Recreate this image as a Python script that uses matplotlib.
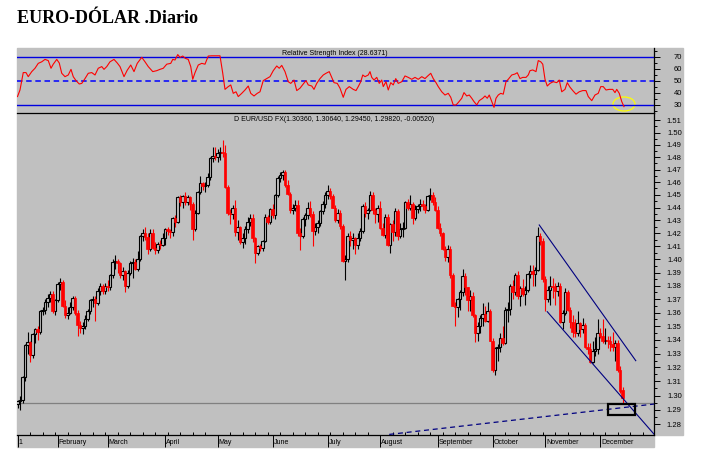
import numpy as np
import pandas as pd
import matplotlib
matplotlib.use("Agg")
import matplotlib.pyplot as plt
from matplotlib.patches import Rectangle, Ellipse
from matplotlib.ticker import NullFormatter
import matplotlib.transforms as mtransforms

# daily EUR/USD candles, 10 Jan 2011 .. 14 Dec 2011 (one line per month)
op = [1.2940, 1.2960, 1.2970, 1.3130, 1.3360, 1.3385, 1.3290, 1.3440, 1.3480, 1.3460, 1.3610, 1.3620, 1.3680, 1.3710, 1.3740, 1.3610,
      1.3690, 1.3810, 1.3830, 1.3650, 1.3580, 1.3600, 1.3640, 1.3710, 1.3600, 1.3510, 1.3490, 1.3500, 1.3550, 1.3610, 1.3690, 1.3700, 1.3670, 1.3760, 1.3800, 1.3760,
      1.3800, 1.3790, 1.3880, 1.3980, 1.3990, 1.3970, 1.3880, 1.3910, 1.3800, 1.3900, 1.3970, 1.3980, 1.3930, 1.4000, 1.4180, 1.4200, 1.4170, 1.4080, 1.4200, 1.4090, 1.4070, 1.4120, 1.4110,
      1.4160, 1.4230, 1.4220, 1.4210, 1.4320, 1.4290, 1.4480, 1.4440, 1.4490, 1.4440, 1.4480, 1.4430, 1.4230, 1.4360, 1.4520, 1.4590, 1.4570, 1.4580, 1.4640, 1.4790, 1.4810,
      1.4800, 1.4830, 1.4840, 1.4830, 1.4560, 1.4360, 1.4350, 1.4400, 1.4210, 1.4250, 1.4130, 1.4160, 1.4230, 1.4290, 1.4320, 1.4160, 1.4050, 1.4100, 1.4090, 1.4140, 1.4330, 1.4290,
      1.4390, 1.4340, 1.4500, 1.4630, 1.4660, 1.4680, 1.4580, 1.4510, 1.4380, 1.4400, 1.4420, 1.4200, 1.4180, 1.4310, 1.4340, 1.4400, 1.4350, 1.4220, 1.4250, 1.4280, 1.4370, 1.4430,
      1.4500, 1.4530, 1.4490, 1.4400, 1.4300, 1.4360, 1.4260, 1.3990, 1.4000, 1.4180, 1.4150, 1.4160, 1.4110, 1.4160, 1.4220, 1.4410, 1.4360, 1.4380, 1.4500, 1.4380, 1.4350,
      1.4400, 1.4240, 1.4190, 1.4330, 1.4110, 1.4270, 1.4210, 1.4370, 1.4180, 1.4230, 1.4240, 1.4440, 1.4400, 1.4430, 1.4320, 1.4390, 1.4410, 1.4430, 1.4410, 1.4380, 1.4490, 1.4500, 1.4440,
      1.4380, 1.4240, 1.4200, 1.4080, 1.4020, 1.4080, 1.3880, 1.3650, 1.3640, 1.3700, 1.3750, 1.3870, 1.3790, 1.3690, 1.3720, 1.3580, 1.3450, 1.3500, 1.3560, 1.3590, 1.3540, 1.3610,
      1.3390, 1.3180, 1.3340, 1.3350, 1.3410, 1.3380, 1.3620, 1.3630, 1.3800, 1.3750, 1.3880, 1.3720, 1.3780, 1.3740, 1.3770, 1.3890, 1.3910, 1.3890, 1.3920, 1.4180, 1.4140,
      1.3850, 1.3700, 1.3770, 1.3800, 1.3790, 1.3760, 1.3800, 1.3530, 1.3600, 1.3750, 1.3620, 1.3530, 1.3460, 1.3450, 1.3520, 1.3480, 1.3510, 1.3350, 1.3330, 1.3240, 1.3320, 1.3330,
      1.3450, 1.3430, 1.3390, 1.3400, 1.3390, 1.3370, 1.3350, 1.3380, 1.3180, 1.3036]
hi = [1.2970, 1.3000, 1.3140, 1.3370, 1.3460, 1.3390, 1.3450, 1.3490, 1.3500, 1.3620, 1.3640, 1.3700, 1.3740, 1.3760, 1.3760, 1.3700,
      1.3830, 1.3860, 1.3840, 1.3690, 1.3640, 1.3680, 1.3720, 1.3720, 1.3620, 1.3540, 1.3530, 1.3580, 1.3630, 1.3700, 1.3720, 1.3720, 1.3780, 1.3820, 1.3810, 1.3820,
      1.3840, 1.3890, 1.4000, 1.4030, 1.4000, 1.3980, 1.3940, 1.3920, 1.3920, 1.3990, 1.4010, 1.4000, 1.4060, 1.4190, 1.4230, 1.4250, 1.4200, 1.4230, 1.4230, 1.4130, 1.4130, 1.4150, 1.4200,
      1.4240, 1.4250, 1.4230, 1.4330, 1.4340, 1.4490, 1.4500, 1.4500, 1.4520, 1.4500, 1.4490, 1.4440, 1.4380, 1.4530, 1.4650, 1.4600, 1.4600, 1.4670, 1.4800, 1.4880, 1.4880,
      1.4870, 1.4880, 1.4940, 1.4900, 1.4580, 1.4390, 1.4420, 1.4460, 1.4300, 1.4260, 1.4200, 1.4260, 1.4330, 1.4350, 1.4350, 1.4170, 1.4110, 1.4120, 1.4150, 1.4350, 1.4340, 1.4400,
      1.4430, 1.4510, 1.4650, 1.4680, 1.4700, 1.4700, 1.4620, 1.4520, 1.4430, 1.4460, 1.4460, 1.4240, 1.4330, 1.4360, 1.4440, 1.4450, 1.4370, 1.4280, 1.4300, 1.4380, 1.4450, 1.4520,
      1.4580, 1.4550, 1.4510, 1.4420, 1.4390, 1.4380, 1.4270, 1.4030, 1.4200, 1.4220, 1.4200, 1.4170, 1.4200, 1.4240, 1.4430, 1.4440, 1.4400, 1.4530, 1.4520, 1.4400, 1.4420,
      1.4450, 1.4280, 1.4350, 1.4350, 1.4280, 1.4300, 1.4400, 1.4390, 1.4280, 1.4290, 1.4450, 1.4470, 1.4500, 1.4440, 1.4420, 1.4430, 1.4470, 1.4460, 1.4430, 1.4500, 1.4550, 1.4520, 1.4480,
      1.4410, 1.4280, 1.4210, 1.4100, 1.4110, 1.4100, 1.3900, 1.3680, 1.3710, 1.3770, 1.3930, 1.3900, 1.3790, 1.3770, 1.3750, 1.3590, 1.3530, 1.3580, 1.3670, 1.3650, 1.3680, 1.3630,
      1.3410, 1.3350, 1.3370, 1.3450, 1.3500, 1.3640, 1.3680, 1.3810, 1.3840, 1.3900, 1.3910, 1.3800, 1.3850, 1.3800, 1.3900, 1.3960, 1.3960, 1.3940, 1.4250, 1.4200, 1.4160,
      1.3870, 1.3800, 1.3870, 1.3860, 1.3820, 1.3830, 1.3820, 1.3620, 1.3780, 1.3770, 1.3640, 1.3580, 1.3550, 1.3610, 1.3530, 1.3560, 1.3520, 1.3380, 1.3380, 1.3390, 1.3420, 1.3550,
      1.3490, 1.3550, 1.3490, 1.3430, 1.3430, 1.3460, 1.3400, 1.3400, 1.3210, 1.3064]
lo = [1.2910, 1.2900, 1.2950, 1.3100, 1.3300, 1.3240, 1.3270, 1.3380, 1.3400, 1.3440, 1.3580, 1.3590, 1.3640, 1.3680, 1.3600, 1.3580,
      1.3680, 1.3770, 1.3640, 1.3560, 1.3550, 1.3590, 1.3620, 1.3580, 1.3430, 1.3450, 1.3440, 1.3480, 1.3540, 1.3590, 1.3640, 1.3540, 1.3660, 1.3730, 1.3740, 1.3740,
      1.3760, 1.3770, 1.3860, 1.3930, 1.3900, 1.3860, 1.3840, 1.3750, 1.3780, 1.3880, 1.3860, 1.3920, 1.3910, 1.3990, 1.4140, 1.4150, 1.4040, 1.4060, 1.4080, 1.4040, 1.4050, 1.4080, 1.4100,
      1.4110, 1.4190, 1.4160, 1.4180, 1.4250, 1.4280, 1.4410, 1.4400, 1.4420, 1.4420, 1.4380, 1.4150, 1.4220, 1.4350, 1.4510, 1.4540, 1.4520, 1.4560, 1.4620, 1.4760, 1.4780,
      1.4760, 1.4780, 1.4800, 1.4550, 1.4340, 1.4270, 1.4310, 1.4180, 1.4150, 1.4120, 1.4090, 1.4120, 1.4200, 1.4260, 1.4130, 1.3970, 1.4030, 1.4060, 1.4060, 1.4130, 1.4270, 1.4270,
      1.4320, 1.4310, 1.4480, 1.4600, 1.4620, 1.4560, 1.4500, 1.4360, 1.4350, 1.4370, 1.4180, 1.4070, 1.4160, 1.4260, 1.4310, 1.4330, 1.4100, 1.4190, 1.4200, 1.4260, 1.4350, 1.4400,
      1.4470, 1.4470, 1.4400, 1.4290, 1.4280, 1.4230, 1.3980, 1.3840, 1.3980, 1.4100, 1.4080, 1.4040, 1.4080, 1.4140, 1.4200, 1.4330, 1.4310, 1.4370, 1.4350, 1.4280, 1.4290,
      1.4230, 1.4180, 1.4160, 1.4100, 1.4050, 1.4140, 1.4180, 1.4150, 1.4160, 1.4170, 1.4230, 1.4380, 1.4380, 1.4270, 1.4300, 1.4360, 1.4370, 1.4380, 1.4360, 1.4370, 1.4460, 1.4420, 1.4370,
      1.4230, 1.4180, 1.4070, 1.3990, 1.3980, 1.3860, 1.3650, 1.3500, 1.3570, 1.3620, 1.3720, 1.3730, 1.3610, 1.3610, 1.3570, 1.3385, 1.3390, 1.3450, 1.3500, 1.3530, 1.3530, 1.3390,
      1.3170, 1.3145, 1.3250, 1.3310, 1.3360, 1.3370, 1.3530, 1.3580, 1.3700, 1.3730, 1.3700, 1.3650, 1.3720, 1.3660, 1.3750, 1.3860, 1.3800, 1.3800, 1.3910, 1.4110, 1.3830,
      1.3610, 1.3680, 1.3660, 1.3710, 1.3660, 1.3720, 1.3520, 1.3480, 1.3580, 1.3610, 1.3490, 1.3420, 1.3420, 1.3430, 1.3420, 1.3450, 1.3340, 1.3300, 1.3230, 1.3230, 1.3280, 1.3300,
      1.3410, 1.3380, 1.3370, 1.3340, 1.3320, 1.3320, 1.3250, 1.3170, 1.3020, 1.2945]
cl = [1.2960, 1.2970, 1.3130, 1.3360, 1.3385, 1.3290, 1.3440, 1.3480, 1.3460, 1.3610, 1.3620, 1.3680, 1.3710, 1.3740, 1.3610, 1.3690,
      1.3810, 1.3830, 1.3650, 1.3580, 1.3600, 1.3640, 1.3710, 1.3600, 1.3510, 1.3490, 1.3500, 1.3550, 1.3610, 1.3690, 1.3700, 1.3670, 1.3760, 1.3800, 1.3760, 1.3800,
      1.3790, 1.3880, 1.3980, 1.3990, 1.3970, 1.3880, 1.3910, 1.3800, 1.3900, 1.3970, 1.3980, 1.3930, 1.4000, 1.4180, 1.4200, 1.4170, 1.4080, 1.4200, 1.4090, 1.4070, 1.4120, 1.4110, 1.4160,
      1.4230, 1.4220, 1.4210, 1.4320, 1.4290, 1.4480, 1.4440, 1.4490, 1.4440, 1.4480, 1.4430, 1.4230, 1.4360, 1.4520, 1.4590, 1.4570, 1.4580, 1.4640, 1.4790, 1.4810, 1.4800,
      1.4830, 1.4840, 1.4830, 1.4560, 1.4360, 1.4350, 1.4400, 1.4210, 1.4250, 1.4130, 1.4160, 1.4230, 1.4290, 1.4320, 1.4160, 1.4050, 1.4100, 1.4090, 1.4140, 1.4330, 1.4290, 1.4390,
      1.4340, 1.4500, 1.4630, 1.4660, 1.4680, 1.4580, 1.4510, 1.4380, 1.4400, 1.4420, 1.4200, 1.4180, 1.4310, 1.4340, 1.4400, 1.4350, 1.4220, 1.4250, 1.4280, 1.4370, 1.4430, 1.4500,
      1.4530, 1.4490, 1.4400, 1.4300, 1.4360, 1.4260, 1.3990, 1.4000, 1.4180, 1.4150, 1.4160, 1.4110, 1.4160, 1.4220, 1.4410, 1.4360, 1.4380, 1.4500, 1.4380, 1.4350, 1.4400,
      1.4240, 1.4190, 1.4330, 1.4110, 1.4270, 1.4210, 1.4370, 1.4180, 1.4230, 1.4240, 1.4440, 1.4400, 1.4430, 1.4320, 1.4390, 1.4410, 1.4430, 1.4410, 1.4380, 1.4490, 1.4500, 1.4440, 1.4380,
      1.4240, 1.4200, 1.4080, 1.4020, 1.4080, 1.3880, 1.3650, 1.3640, 1.3700, 1.3750, 1.3870, 1.3790, 1.3690, 1.3720, 1.3580, 1.3450, 1.3500, 1.3560, 1.3590, 1.3540, 1.3610, 1.3390,
      1.3180, 1.3340, 1.3350, 1.3410, 1.3380, 1.3620, 1.3630, 1.3800, 1.3750, 1.3880, 1.3720, 1.3780, 1.3740, 1.3770, 1.3890, 1.3910, 1.3890, 1.3920, 1.4180, 1.4140, 1.3850,
      1.3700, 1.3770, 1.3800, 1.3790, 1.3760, 1.3800, 1.3530, 1.3600, 1.3750, 1.3620, 1.3530, 1.3460, 1.3450, 1.3520, 1.3480, 1.3510, 1.3350, 1.3330, 1.3240, 1.3320, 1.3330, 1.3450,
      1.3430, 1.3390, 1.3400, 1.3390, 1.3370, 1.3350, 1.3380, 1.3180, 1.3035, 1.2982]

# RSI(14) (x = trading day index)
rsi_day = [0, 1, 2.3, 3.4, 4.3, 5.7, 7, 8.3, 9.7, 11, 12.3, 13.4, 14.3, 15.7, 16.7, 17.7, 19, 20.3, 21.4, 22.3,
           23.4, 24.7, 25.7, 27, 28.3, 29.7, 31, 32.3, 33.7, 34.6, 35.7, 37, 38.6, 39.9, 41, 42.6, 43.9, 45.3, 46.6, 47.9,
           49.7, 51, 52.3, 54.1, 55.7, 57, 58.3, 59.7, 61.3, 62.1, 63, 64.1, 65, 66.1, 67.1, 68.3, 69.3, 70.1, 71, 72.3,
           73.7, 75, 76.3, 77.7, 81, 82.1, 83, 84.3, 85.3, 86.3, 87.4, 88.3, 89.7, 91, 92.3, 93.3, 94.6, 95.9, 97, 98.3,
           99.7, 101, 102.3, 103.7, 104.7, 105.7, 107, 108.3, 109.3, 110.6, 111.7, 113, 114.3, 115.4, 116.3, 117.7, 118.6, 119.7, 121, 122.3,
           123.4, 124.7, 125.7, 126.6, 127.9, 129, 130.3, 131.4, 132.7,
           134.3, 135.4, 136.3, 137.3, 138.1, 139, 140.3, 141, 141.7, 142.6, 143.7, 144.7, 145.7, 146.3, 147.4, 148.3, 149.3, 150.3, 151.3, 152.3,
           153.7, 155, 156.3, 157.7, 159, 160.3, 161.7, 163, 164.1, 165.3, 166.3, 167.4, 168.3, 169.7, 171, 172.3, 173.3, 174.3, 175.4, 176.3,
           177.7, 178.6, 179.7, 180.7, 181.7, 182.6, 183.7, 184.7, 186.1, 187, 187.9, 188.7, 189.7, 190.6, 191.4, 192.3, 193.3, 194.3, 195.4, 196.3,
           197.7, 199, 199.9, 201, 202.1, 203.4, 204.3, 205, 206.1, 207.4, 208.3, 209.3, 210.1, 211, 211.9, 213, 214.3, 215.7, 216.7, 217.7,
           219, 219.9, 221, 222.1, 223.4, 224.7, 226.1, 227.4, 228.3, 229.7, 231, 232.3, 233.3, 234.3, 235.4, 236.7, 238.1, 239, 239.7, 240.7,
           241.7, 242.6]
rsi_val = [37, 42.5, 57, 57, 53.6, 57.8, 60.6, 64.7, 66, 68, 67, 60.6, 64, 68, 65, 56.4, 53.6, 55, 59.7, 53.6,
           50.3, 47.5, 48, 52, 56.4, 57, 55, 60.6, 62, 59.7, 62, 66, 68, 65, 62, 53.6, 59, 63.3, 57.8, 64.7,
           69.7, 66, 62, 57.8, 58.6, 59.7, 60.6, 64, 64.7, 68, 67.5, 72, 69.7, 70.8, 68.9, 68, 62, 51.4, 56.9, 63.3,
           64.7, 64, 70.8, 71, 71, 56.4, 43, 45.3, 46.7, 39.7, 41, 37, 39.7, 42.5, 45.8, 39.7, 37.5, 39.7, 41, 50.3,
           52, 53.6, 58.6, 62.5, 60.6, 63, 57.8, 49.4, 48, 50.8, 42, 44, 47.5, 50.3, 46.7, 45.8, 43, 48, 52, 55,
           56.4, 57.8, 53, 48.6, 48, 44, 36.4, 43, 45.3,
           43, 42, 45.3, 49.4, 55, 53.6, 55, 57.8, 53, 50.8, 53, 48, 50.8, 45.3, 49.4, 42.5, 48.6, 46.7, 52, 48,
           49.4, 54.2, 53, 51.4, 53, 51.4, 53.6, 52, 54.2, 56.4, 52, 48.6, 45.3, 41, 38.3, 39.7, 36.4, 30, 30, 32,
           35.6, 40.3, 37.5, 38.3, 35.6, 32.8, 30, 33.6, 35.6, 37.5, 35.6, 38.3, 32.8, 28, 35.6, 38.3, 39.7, 39, 49.4, 51.4,
           55, 55.8, 56.9, 52, 53, 53, 55, 58.6, 59.2, 57.8, 67, 66, 64, 51.4, 45.8, 48, 49.4, 48.6, 50.8, 41,
           43, 48.6, 44.8, 42, 39, 41, 42, 42, 37, 33.6, 38.3, 39.7, 45.3, 45.3, 42.5, 43, 43, 40.3, 43, 39.7,
           32.8, 28.6]

month_labels = ["1", "February", "March", "April", "May", "June", "July",
                "August", "September", "October", "November", "December"]
price_ticks = np.round(np.arange(128, 152) / 100, 2)
rsi_ticks = [30, 40, 50, 60, 70]

# hand-drawn annotations (day index, price)
upper_line = ([208.7, 247.3], [1.4264, 1.3249])
lower_line = ([211.9, 254.6], [1.3607, 1.2730])
dash_line = ([148.7, 254.6], [1.2728, 1.2940])
box_days = (236.1, 247.0)
box_prices = (1.2863, 1.2940)
last_low = 1.2945

GRAY = "#C0C0C0"
FONT = "Liberation Sans"
W, H = 705, 458


def frac(x0, y0, x1, y1):
    return [x0 / W, 1 - y1 / H, (x1 - x0) / W, (y1 - y0) / H]


fig = plt.figure(figsize=(W / 100, H / 100), dpi=100)
fig.patch.set_facecolor("white")
fig.patches.append(Rectangle((17 / W, 1 - 435 / H), (683 - 17) / W, (435 - 48) / H,
                             transform=fig.transFigure, color=GRAY, zorder=-5))
fig.patches.append(Rectangle((17 / W, 1 - 447 / H), (654 - 17) / W, 12 / H,
                             transform=fig.transFigure, color=GRAY, zorder=-5))
fig.text(17 / W, 1 - 23 / H, "EURO-DÓLAR .Diario", family="Liberation Serif",
         weight="bold", size=13, va="baseline", ha="left")

ax_r = fig.add_axes(frac(17, 48, 654, 113))
ax = fig.add_axes(frac(17, 113, 654, 435))
xmin, xmax = -0.2, 254.6

# ---- RSI panel
ax_r.set_facecolor(GRAY)
ax_r.axhline(70, color="#0000E0", lw=1.0)
ax_r.axhline(30, color="#0000E0", lw=1.0)
ax_r.axhline(50, color="#0000FF", lw=1.1, dashes=(3.6, 2.4))
ax_r.plot(rsi_day, rsi_val, color="red", lw=0.8)
ax_r.add_patch(Ellipse((242.6, 30.8), 8.8, 11.7, fill=False, edgecolor="#FFFF00", lw=0.9))
ax_r.set_xlim(xmin, xmax)
ax_r.set_ylim(23.3, 77.5)
ax_r.text(0.499, 0.91, "Relative Strength Index (28.6371)", transform=ax_r.transAxes,
          ha="center", va="center", fontsize=5, family=FONT)
for s in ["left", "top", "bottom"]:
    ax_r.spines[s].set_visible(False)
ax_r.spines["right"].set_linewidth(0.9)
ax_r.set_xticks([])
ax_r.yaxis.tick_right()
ax_r.set_yticks(rsi_ticks)
ax_r.set_yticks([25, 35, 45, 55, 65, 75], minor=True)
ax_r.tick_params(axis="y", which="major", direction="out", length=4, width=0.7,
                 pad=16, labelsize=5.5)
ax_r.tick_params(axis="y", which="minor", direction="out", length=2, width=0.7)

# ---- price panel
ax.set_facecolor(GRAY)
ax.set_yscale("log")
o, h, l, c = map(np.array, (op, hi, lo, cl))
x = np.arange(len(c))
up = c >= o
ax.vlines(x[up], l[up], h[up], color="black", lw=0.8, zorder=2)
ax.vlines(x[~up], l[~up], h[~up], color="red", lw=0.8, zorder=2)
ax.bar(x[up], (c - o)[up], bottom=o[up], width=0.9, facecolor=GRAY,
       edgecolor="black", lw=0.8, zorder=3)
ax.bar(x[~up], (o - c)[~up], bottom=c[~up], width=0.9, color="red",
       edgecolor="red", lw=0.5, zorder=3)

ax.axhline(last_low, color="#808080", lw=0.9, zorder=1)
ax.plot(*upper_line, color="#000080", lw=0.8, zorder=4)
ax.plot(*lower_line, color="#000080", lw=0.8, zorder=4)
ax.plot(*dash_line, color="#000080", lw=0.9, dashes=(4, 3), zorder=4)
ax.add_patch(Rectangle((box_days[0], box_prices[0]), box_days[1] - box_days[0],
                       box_prices[1] - box_prices[0], fill=False, edgecolor="black",
                       lw=1.6, zorder=5))
ax.text(0.4985, 0.981, "D EUR/USD FX(1.30360, 1.30640, 1.29450, 1.29820, -0.00520)",
        transform=ax.transAxes, ha="center", va="center", fontsize=5, family=FONT)

ax.set_xlim(xmin, xmax)
ax.set_ylim(1.2724, 1.516)
ax.spines["left"].set_visible(False)
for s in ["top", "right", "bottom"]:
    ax.spines[s].set_linewidth(0.9)

ax.yaxis.tick_right()
ax.set_yticks(price_ticks, [f"{v:.2f}" for v in price_ticks])
ax.set_yticks(np.round(price_ticks[:-1] + 0.005, 3), minor=True)
ax.yaxis.set_minor_formatter(NullFormatter())
ax.tick_params(axis="y", which="major", direction="out", length=4, width=0.7,
               pad=16, labelsize=5.5)
ax.tick_params(axis="y", which="minor", direction="out", length=2, width=0.7)

days = pd.bdate_range("2011-01-10", "2011-12-30")
month_pos = [0] + [i for i in range(1, len(days)) if days[i].month != days[i - 1].month]
week_pos = [i for i, d in enumerate(days) if d.weekday() == 0]
ax.set_xticks(month_pos)
ax.set_xticklabels([])
ax.set_xticks(week_pos, minor=True)
ax.tick_params(axis="x", which="major", direction="out", length=8.5, width=0.7)
ax.tick_params(axis="x", which="minor", direction="in", length=2.2, width=0.7)
trans = mtransforms.blended_transform_factory(ax.transData, ax.transAxes)
for p, lab in zip(month_pos, month_labels):
    ax.text(p + 0.5, -0.022, lab, transform=trans, ha="left", va="center",
            fontsize=5, family=FONT)

for a in (ax, ax_r):
    for t in a.get_yticklabels():
        t.set_horizontalalignment("right")
        t.set_family(FONT)

fig.savefig("out.png", dpi=100)
